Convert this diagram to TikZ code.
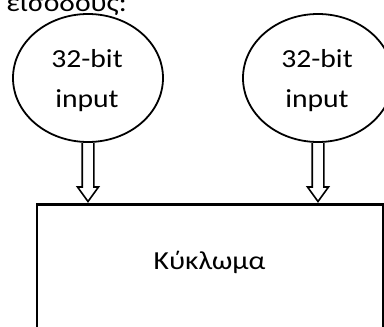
\documentclass[tikz,border=0pt]{standalone}
\usepackage{fontspec}
\usepackage{graphicx}
\setmainfont{Carlito}
\usetikzlibrary{shapes.geometric,calc}
% text set slightly wider than the font's natural width
\newcommand{\wide}[1]{\scalebox{1.14}[1]{#1}}
\begin{document}
\begin{tikzpicture}[x=1pt,y=-1pt,
  inbubble/.style={draw, ellipse, line width=1.8pt, minimum width=150pt,
    minimum height=128pt, inner sep=0pt},
  lbl/.style={font=\fontsize{26}{40}\selectfont, align=center, inner sep=0pt},
  block/.style={draw, rectangle, line width=2.5pt, anchor=north west,
    minimum width=346pt, minimum height=150pt, inner sep=0pt},
  hollow/.style={draw, line width=1.6pt, line join=miter}]
\useasboundingbox (0,0) rectangle (384,327);
\clip (0,0) rectangle (384,327);

% heading line, partly above the frame
\node[lbl, anchor=base east] (head) at (127,11.5) {\wide{εισόδους:}};

% the two inputs
\node[inbubble] (in1) at (88,78) {};
\node[inbubble] (in2) at (318,78) {};
\node[lbl, anchor=base] (t1) at (87,107) {\wide{32-bit}\\\wide{input}};
\node[lbl, anchor=base] (t2) at (317,107) {\wide{32-bit}\\\wide{input}};

% the circuit block
\node[block] (blk) at (35.7,203) {};
\node[lbl, anchor=base] (name) at (209.5,269) {\wide{Κύκλωμα}};

% hollow bus arrows from each input into the block
\foreach \src in {in1,in2}{
  \draw[hollow] let \p1=(\src.south), \p2=(blk.north -| \src.south) in
    (\x1-5.8pt,\y1) -- (\x1-5.8pt,\y2+16pt) -- (\x1-10.5pt,\y2+16pt)
    -- (\x1,\y2+1.5pt) -- (\x1+10.5pt,\y2+16pt) -- (\x1+5.8pt,\y2+16pt)
    -- (\x1+5.8pt,\y1);
}
\end{tikzpicture}
\end{document}
